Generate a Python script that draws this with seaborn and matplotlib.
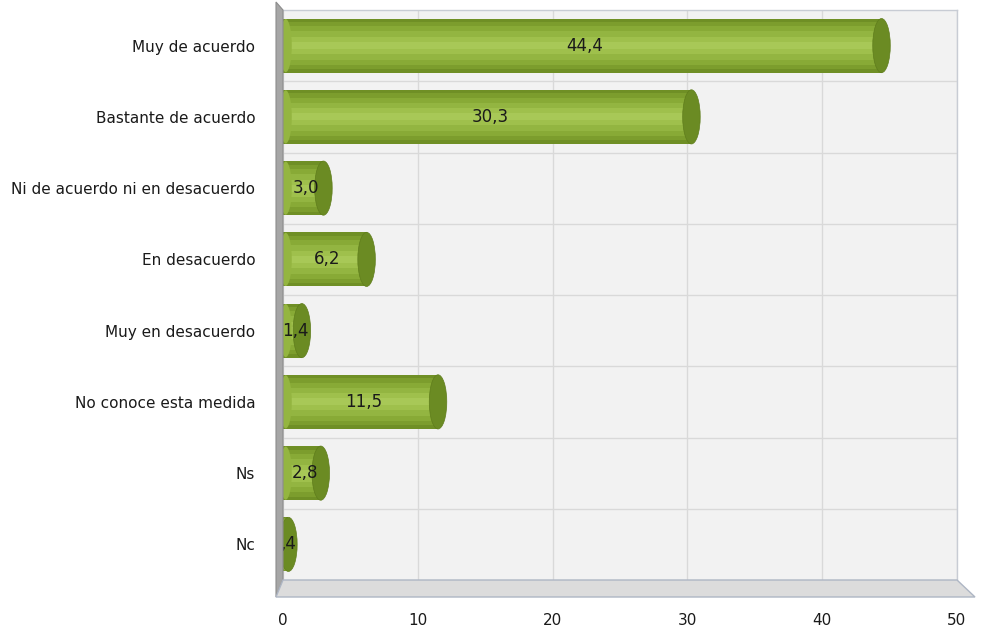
import matplotlib
matplotlib.use("Agg")
import matplotlib.pyplot as plt
from matplotlib.patches import Ellipse, Polygon
import pandas as pd
import seaborn as sns

# Categories and percentages
categories = [
    "Muy de acuerdo",
    "Bastante de acuerdo",
    "Ni de acuerdo ni en desacuerdo",
    "En desacuerdo",
    "Muy en desacuerdo",
    "No conoce esta medida",
    "Ns",
    "Nc",
]
values = [44.4, 30.3, 3.0, 6.2, 1.4, 11.5, 2.8, 0.4]
value_labels = ["44,4", "30,3", "3,0", "6,2", "1,4", "11,5", "2,8", ",4"]
x_ticks = [0, 10, 20, 30, 40, 50]

df = pd.DataFrame({"categoria": categories, "porcentaje": values})

sns.set_theme(style="white")
plt.rcParams["font.family"] = ["DejaVu Sans"]

W, H = 989, 627
fig = plt.figure(figsize=(W / 100, H / 100), dpi=100)


def fx(px):
    return px / W


def fy(py):
    return 1 - py / H


# plot area = back wall of the 3D box
ax = fig.add_axes([fx(283), fy(580), fx(957) - fx(283), fy(10) - fy(580)])
ax.set_facecolor("#f2f2f2")

# left wall and floor of the pseudo-3D frame
fig.patches.append(Polygon(
    [(fx(276), fy(2)), (fx(283), fy(10)), (fx(283), fy(580)), (fx(276), fy(597))],
    closed=True, transform=fig.transFigure, facecolor="#a6a6a6",
    edgecolor="#8c8c8c", lw=0.8, zorder=0))
fig.patches.append(Polygon(
    [(fx(283), fy(580)), (fx(957), fy(580)), (fx(975), fy(597)), (fx(276), fy(597))],
    closed=True, transform=fig.transFigure, facecolor="#dcdcdc",
    edgecolor="#aeb6c4", lw=1.0, zorder=0))

# cylinder body built from stacked bands, dark at the rims, light in the middle
bands = [(0.76, "#6f8f25"), (0.66, "#7c9d2d"), (0.54, "#88aa36"),
         (0.40, "#93b541"), (0.24, "#9fc04c"), (0.10, "#a8c857")]
for k, (w, c) in enumerate(bands):
    sns.barplot(data=df, x="porcentaje", y="categoria", orient="h", color=c,
                width=w, saturation=1, linewidth=0, ax=ax, zorder=3 + k)

# rounded ends: darker cap at the right, lighter at the left
for p in ax.patches[:len(values)]:
    y0, h = p.get_y(), p.get_height()
    x1 = p.get_x() + p.get_width()
    ax.add_patch(Ellipse((x1, y0 + h / 2), 1.3, h, facecolor="#6b8b23",
                         edgecolor="#5f7d1c", lw=0.5, zorder=12))
    ax.add_patch(Ellipse((p.get_x() + 0.2, y0 + h / 2), 0.9, h * 0.98,
                         facecolor="#94b540", edgecolor="none", zorder=11))

for i, (v, lab) in enumerate(zip(values, value_labels)):
    ax.text(v / 2 + 0.2, i, lab, ha="center", va="center", fontsize=12,
            color="#1a1a1a", zorder=20)

ax.set_xlim(0, 50)
ax.set_xticks(x_ticks)
ax.set_xticklabels([str(t) for t in x_ticks])
ax.set_yticks(range(len(categories)))
ax.set_ylim(len(categories) - 0.5, -0.5)
ax.set_xlabel("")
ax.set_ylabel("")
ax.tick_params(axis="x", length=0, pad=24, labelsize=11, labelcolor="#1a1a1a")
ax.tick_params(axis="y", length=0, pad=20, labelsize=11, labelcolor="#1a1a1a")

# gridlines: vertical at ticks, horizontal between categories
ax.set_yticks([i + 0.5 for i in range(len(categories) - 1)], minor=True)
ax.grid(True, axis="x", which="major", color="#d9d9d9", lw=1.0)
ax.grid(False, axis="y", which="major")
ax.grid(True, axis="y", which="minor", color="#d9d9d9", lw=1.0)
ax.tick_params(axis="y", which="minor", length=0)
ax.set_axisbelow(True)

for s in ["top", "right"]:
    ax.spines[s].set_color("#c8ccd4")
    ax.spines[s].set_linewidth(1.0)
for s in ["left", "bottom"]:
    ax.spines[s].set_visible(False)

fig.savefig("out.png", dpi=100)
